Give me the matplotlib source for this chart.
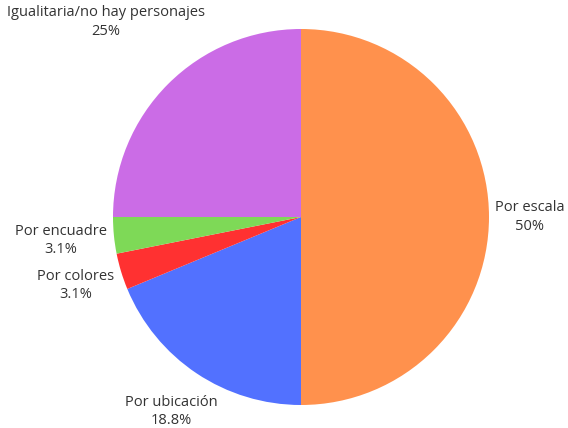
import numpy as np
import matplotlib
matplotlib.use("Agg")
import matplotlib.pyplot as plt

labels = ["Por escala", "Por ubicación", "Por colores", "Por encuadre", "Igualitaria/no hay personajes"]
values = [16, 6, 1, 1, 8]
pct_labels = ["50%", "18.8%", "3.1%", "3.1%", "25%"]
colors = ["#FF914D", "#5271FF", "#FF3131", "#7ED957", "#CB6CE6"]

W, H = 568, 428
fig = plt.figure(figsize=(W / 100, H / 100), dpi=100)
ax = fig.add_axes([0, 0, 1, 1])
ax.set_xlim(0, W)
ax.set_ylim(0, H)
ax.set_aspect("equal")
ax.axis("off")

cx, cy, R = 301, H - 217, 188
wedges, _ = ax.pie(values, colors=colors, startangle=90, counterclock=False,
                   center=(cx, cy), radius=R, frame=True,
                   wedgeprops=dict(linewidth=0))
ax.set_xlim(0, W)
ax.set_ylim(0, H)
ax.axis("off")

fig.canvas.draw()
renderer = fig.canvas.get_renderer()
for w, lab, pct in zip(wedges, labels, pct_labels):
    ang = np.deg2rad((w.theta1 + w.theta2) / 2)
    c, s = np.cos(ang), np.sin(ang)
    t = ax.text(cx, cy, f"{lab}\n{pct}", ha="center", va="center",
                fontsize=10.5, family=["Open Sans", "DejaVu Sans"], color="#333333",
                linespacing=1.3)
    bb = t.get_window_extent(renderer)
    hw, hh = bb.width / 2, bb.height / 2
    d = R + 6 + abs(c) * hw + abs(s) * hh
    t.set_position((cx + d * c, cy + d * s))

fig.savefig("out.png", dpi=100)
